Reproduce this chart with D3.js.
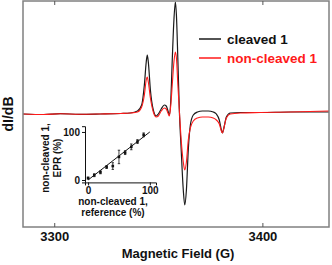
<!DOCTYPE html>
<html><head><meta charset="utf-8">
<script src="https://cdn.jsdelivr.net/npm/d3@7"></script>
<style>body{margin:0;background:#fff}svg{display:block}text{font-family:"Liberation Sans",Arial,sans-serif;font-weight:bold}</style>
</head><body><svg id="c" width="332" height="265"></svg>
<script>
// Main EPR spectrum: magnetic field (G) and dI/dB (arb. units)
const field = [3285,3295,3303,3312,3322,3332,3336.5,3340,3342,3343.3,3344.2,3344.7,3345.2,3346.2,3347.6,3349,3350,3351.4,3352.9,3353.8,3354.8,3355.3,3356,3356.7,3357.5,3358.2,3358.7,3359.4,3360.1,3361,3362,3362.7,3363.5,3364.4,3365.4,3366.8,3368.8,3371.2,3374,3376.4,3377.9,3379.3,3380.3,3380.8,3381.5,3382.7,3384.6,3389.4,3399,3413.5,3432];
const cleaved = [0,-0.5,0.3,-0.3,0,0.5,1,3,9,29,52,59,52,24,4,-2,0,5,9,8,2,-1,14,54,94,112,99,54,4,-36,-76,-91,-76,-36,-11,-1,2,3,3,2,0,-6,-16,-19,-14,-3,1,1.5,1.5,2,2];
const nonCleaved = [0,-0.5,0.3,-0.3,0,0.5,1,2,7,19,34,37,32,16,2,-3,-2,3,6,5,0,-2,9,29,52,62,56,29,4,-26,-48,-56,-48,-26,-14,-7,-4,-3,-3,-4,-6,-10,-17,-19,-14,-4,0,1,1.5,2,3];
const xTicks = [3300,3400];
const seriesNames = ["cleaved 1","non-cleaved 1"];
const seriesColors = ["#1a1a1a","#ff1a1a"];
// Inset: non-cleaved 1 reference (%) vs EPR (%)
const refPct = [0,10,20,30,40,50,60,70,80,90];
const eprPct = [4,10,16,27,29,48,57,69,80,94];
const eprErr = [2,3,3,3,7,14,4,6,4,4];
const fitX = [0,100];
const fitY = [0,100];
const insetTicks = [0,100];

const svg = d3.select("#c");
const x = d3.scaleLinear().domain([3285,3432]).range([23,329]);
const y = d3.scaleLinear().domain([-113,113]).range([227,1]);

const line = (vals) => d3.line().x((d,i)=>x(field[i])).y(d=>y(d)).curve(d3.curveMonotoneX)(vals);
svg.append("path").attr("d",line(cleaved)).attr("fill","none").attr("stroke",seriesColors[0]).attr("stroke-width",1.2);
svg.append("path").attr("d",line(nonCleaved)).attr("fill","none").attr("stroke",seriesColors[1]).attr("stroke-width",1.1);

// frame
svg.append("rect").attr("x",23).attr("y",1).attr("width",306).attr("height",226).attr("fill","none").attr("stroke","#808080").attr("stroke-width",1.5);
svg.append("g").attr("transform","translate(0,227)").call(d3.axisBottom(x).tickValues(xTicks).tickSize(-4).tickPadding(5).tickFormat(d3.format("d")))
  .call(g=>{g.select(".domain").remove();g.selectAll("line").attr("stroke","#555");g.selectAll("text").attr("font-size",13).attr("fill","#111").attr("font-family","Liberation Sans, Arial").attr("font-weight","bold");});
svg.append("g").attr("transform","translate(0,1)").call(d3.axisTop(x).tickValues(xTicks).tickSize(-4).tickFormat(""))
  .call(g=>{g.select(".domain").remove();g.selectAll("line").attr("stroke","#555");});

svg.append("text").attr("x",178).attr("y",258).attr("text-anchor","middle").attr("font-size",13).attr("fill","#111").text("Magnetic Field (G)");
svg.append("text").attr("transform","translate(13,114) rotate(-90)").attr("text-anchor","middle").attr("font-size",14).attr("fill","#111").text("dI/dB");

// legend
seriesNames.forEach((n,i)=>{
  const ly = 39 + i*19;
  svg.append("line").attr("x1",199).attr("x2",221).attr("y1",ly).attr("y2",ly).attr("stroke",seriesColors[i]).attr("stroke-width",1.5);
  svg.append("text").attr("x",227).attr("y",ly+5).attr("font-size",13.5).attr("fill",i? "#ff1a1a":"#111").text(n);
});

// inset
const ix = d3.scaleLinear().domain([-5,110]).range([85,156]);
const iy = d3.scaleLinear().domain([-5,112]).range([182.4,126.2]);
svg.append("g").attr("transform","translate(85,0)").call(d3.axisLeft(iy).tickValues(insetTicks).tickSize(3).tickPadding(2))
  .call(g=>{g.select(".domain").attr("stroke","#111");g.selectAll("line").attr("stroke","#111");g.selectAll("text").attr("font-size",10).attr("fill","#111").attr("font-family","Liberation Sans, Arial").attr("font-weight","bold");});
svg.append("g").attr("transform","translate(0,182.4)").call(d3.axisBottom(ix).tickValues(insetTicks).tickSize(3).tickPadding(2))
  .call(g=>{g.select(".domain").attr("stroke","#111");g.selectAll("line").attr("stroke","#111");g.selectAll("text").attr("font-size",10).attr("fill","#111").attr("font-family","Liberation Sans, Arial").attr("font-weight","bold");});
svg.append("path").attr("d",d3.line().x((d,i)=>ix(fitX[i])).y(d=>iy(d))(fitY)).attr("stroke","#111").attr("stroke-width",1).attr("fill","none");
const pts = svg.append("g");
refPct.forEach((r,i)=>{
  const cx = ix(r), cy = iy(eprPct[i]);
  pts.append("line").attr("x1",cx).attr("x2",cx).attr("y1",iy(eprPct[i]-eprErr[i])).attr("y2",iy(eprPct[i]+eprErr[i])).attr("stroke","#111").attr("stroke-width",0.8);
  [eprPct[i]-eprErr[i],eprPct[i]+eprErr[i]].forEach(v=>pts.append("line").attr("x1",cx-1.2).attr("x2",cx+1.2).attr("y1",iy(v)).attr("y2",iy(v)).attr("stroke","#111").attr("stroke-width",0.8));
  pts.append("rect").attr("x",cx-1.3).attr("y",cy-1.3).attr("width",2.6).attr("height",2.6).attr("fill","#111");
});
svg.append("text").attr("x",113).attr("y",205).attr("text-anchor","middle").attr("font-size",10).attr("fill","#111").text("non-cleaved 1,");
svg.append("text").attr("x",113).attr("y",216).attr("text-anchor","middle").attr("font-size",10).attr("fill","#111").text("reference (%)");
svg.append("text").attr("transform","translate(49,158) rotate(-90)").attr("text-anchor","middle").attr("font-size",10).attr("fill","#111").text("non-cleaved 1,");
svg.append("text").attr("transform","translate(61,158) rotate(-90)").attr("text-anchor","middle").attr("font-size",10).attr("fill","#111").text("EPR (%)");
</script></body></html>
